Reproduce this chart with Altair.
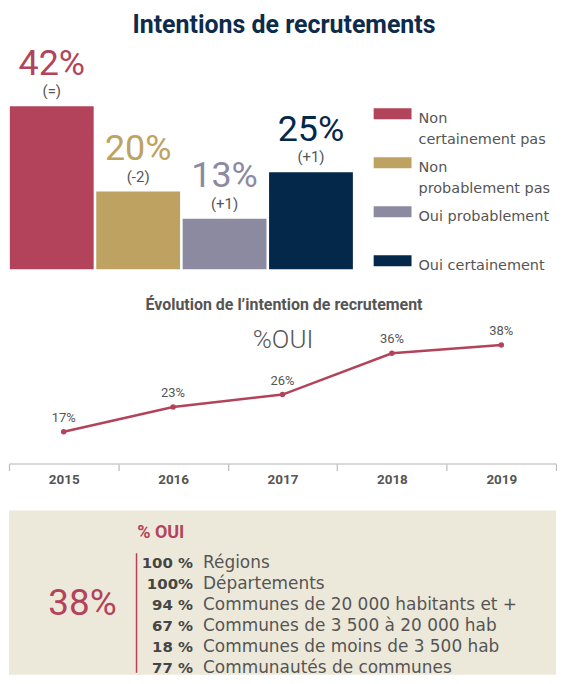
import altair as alt
import pandas as pd

# ---------------- data ----------------
main_title = "Intentions de recrutements"
categories = ["Non certainement pas", "Non probablement pas", "Oui probablement", "Oui certainement"]
legend_labels = ["Non\ncertainement pas", "Non\nprobablement pas", "Oui probablement", "Oui certainement"]
shares = [42, 20, 13, 25]
changes = ["(=)", "(-2)", "(+1)", "(+1)"]
colors = ["#b3435a", "#bea261", "#8c8aa0", "#04284a"]

line_title = "Évolution de l’intention de recrutement"
line_subtitle = "%OUI"
years = ["2015", "2016", "2017", "2018", "2019"]
oui = [17, 23, 26, 36, 38]

box_header = "% OUI"
oui_total = "38%"
row_values = ["100 %", "100%", "94 %", "67 %", "18 %", "77 %"]
row_labels = [
    "Régions",
    "Départements",
    "Communes de 20 000 habitants et +",
    "Communes de 3 500 à 20 000 hab",
    "Communes de moins de 3 500 hab",
    "Communautés de communes",
]

CRIMSON = "#b3435a"
GRAY = "#555555"
NAVY = "#0d2b4b"

# ---------------- panel A : bars + legend ----------------
bars_df = pd.DataFrame({
    "cat": categories,
    "share": shares,
    "change": changes,
    "pct": [f"{v}%" for v in shares],
    "label": legend_labels,
})
color_enc = alt.Color("cat:N", scale=alt.Scale(domain=categories, range=colors), legend=None)
xb = alt.X("cat:N", sort=categories, axis=None,
           scale=alt.Scale(range=[0, 346], paddingInner=0.03, paddingOuter=0.01))
yb = alt.Y("share:Q", axis=None, scale=alt.Scale(domain=[0, 58.5]))
base = alt.Chart(bars_df).encode(x=xb, y=yb)
bars = base.mark_bar().encode(color=color_enc)
big = base.mark_text(font="Roboto", fontSize=36, dy=-31.5, baseline="alphabetic").encode(
    text="pct:N", color=color_enc)
small = base.mark_text(font="Roboto", fontSize=15, dy=-10, baseline="alphabetic", color=GRAY).encode(
    text="change:N")
title_a = alt.Chart(pd.DataFrame({"t": [main_title]})).mark_text(
    font="Roboto", fontSize=25, fontWeight="bold", color=NAVY, align="center", baseline="alphabetic"
).encode(x=alt.value(276), y=alt.value(-9), text="t:N")
bars_layer = alt.layer(bars, big, small)

yl = alt.Y("cat:N", sort=categories, axis=None,
           scale=alt.Scale(type="point", padding=0.818, align=0.894))
sq = alt.Chart(bars_df).mark_tick(orient="horizontal", size=38, thickness=11, opacity=1).encode(
    x=alt.value(366 + 19), y=yl, color=color_enc)
lt = alt.Chart(bars_df).mark_text(
    align="left", baseline="alphabetic", dy=9, font="DejaVu Sans", fontSize=14.5,
    lineHeight=21.7, lineBreak="\n", color=GRAY
).encode(x=alt.value(366 + 45), y=yl, text="label:N")
legend_layer = alt.layer(sq, lt)

panel_a = alt.layer(bars_layer, legend_layer, title_a).resolve_scale(y="independent").properties(
    width=549, height=228)

# ---------------- panel B : line ----------------
line_df = pd.DataFrame({"year": years, "oui": oui, "lab": [f"{v}%" for v in oui]})
xl = alt.X("year:O", bandPosition=0.5,
           scale=alt.Scale(type="band", paddingInner=0, paddingOuter=0),
           axis=alt.Axis(title=None, labelFont="Roboto", labelFontSize=13.5, labelFontWeight="bold",
                         labelColor=GRAY, domainColor="#cccccc", domainWidth=1.5,
                         tickColor="#bbbbbb", tickSize=7, tickWidth=1.2, tickBand="extent",
                         labelPadding=13, labelBaseline="alphabetic", labelAngle=0, grid=False))
yl2 = alt.Y("oui:Q", axis=None, scale=alt.Scale(domain=[9.3, 45], zero=False))
lbase = alt.Chart(line_df).encode(x=xl, y=yl2)
line = lbase.mark_line(color=CRIMSON, strokeWidth=2.5)
pts = lbase.mark_circle(color=CRIMSON, size=30, opacity=1)
plabs = lbase.mark_text(font="Roboto", fontSize=13, dy=-10, baseline="alphabetic", color=GRAY).encode(
    text="lab:N")
title_b = alt.Chart(pd.DataFrame({"t": [line_title]})).mark_text(
    font="Roboto", fontSize=16, fontWeight="bold", color=GRAY, align="center", baseline="alphabetic"
).encode(x=alt.value(276), y=alt.value(-6), text="t:N")
sub_b = alt.Chart(pd.DataFrame({"t": [line_subtitle]})).mark_text(
    font="Roboto", fontSize=26, fontWeight=300, color=GRAY, align="center", baseline="alphabetic"
).encode(x=alt.value(275), y=alt.value(32), text="t:N")
panel_b = alt.layer(line, pts, plabs, title_b, sub_b).properties(width=549, height=148)

# ---------------- panel C : box ----------------
rows_df = pd.DataFrame({"val": row_values, "label": row_labels})
yr = alt.Y("label:N", sort=row_labels, axis=None,
           scale=alt.Scale(type="point", padding=0, range=[58.3, 163.3]))
vals = alt.Chart(rows_df).mark_text(
    align="right", baseline="alphabetic", font="DejaVu Sans", fontWeight="bold", fontSize=15, color="#454545"
).encode(x=alt.value(184.7), y=yr, text="val:N")
labs = alt.Chart(rows_df).mark_text(
    align="left", baseline="alphabetic", font="DejaVu Sans", fontSize=17, color=GRAY
).encode(x=alt.value(194.7), y=yr, text="label:N")
one = pd.DataFrame({"h": [box_header], "t": [oui_total]})
rule = alt.Chart(one).mark_rule(color=CRIMSON, strokeWidth=1.5).encode(
    x=alt.value(128), y=alt.value(43), y2=alt.value(163))
head = alt.Chart(one).mark_text(
    align="left", baseline="alphabetic", font="Roboto", fontWeight="bold", fontSize=18, color=CRIMSON
).encode(x=alt.value(128.7), y=alt.value(28), text="h:N")
tot = alt.Chart(one).mark_text(
    align="center", baseline="alphabetic", font="Roboto", fontSize=37, color=CRIMSON
).encode(x=alt.value(73.7), y=alt.value(105), text="t:N")
panel_c = alt.layer(rule, head, tot, vals, labs).properties(
    width=549, height=165, view=alt.ViewBackground(fill="#ede9da", stroke=None))

chart = alt.vconcat(
    panel_a,
    panel_b,
    panel_c,
    spacing=47,
    bounds="flush",
).properties(
    padding={"left": 0, "top": 4, "right": 0, "bottom": 0}
).configure_view(stroke=None)

chart.save("out.html", embed_options={"renderer": "svg", "actions": False})
